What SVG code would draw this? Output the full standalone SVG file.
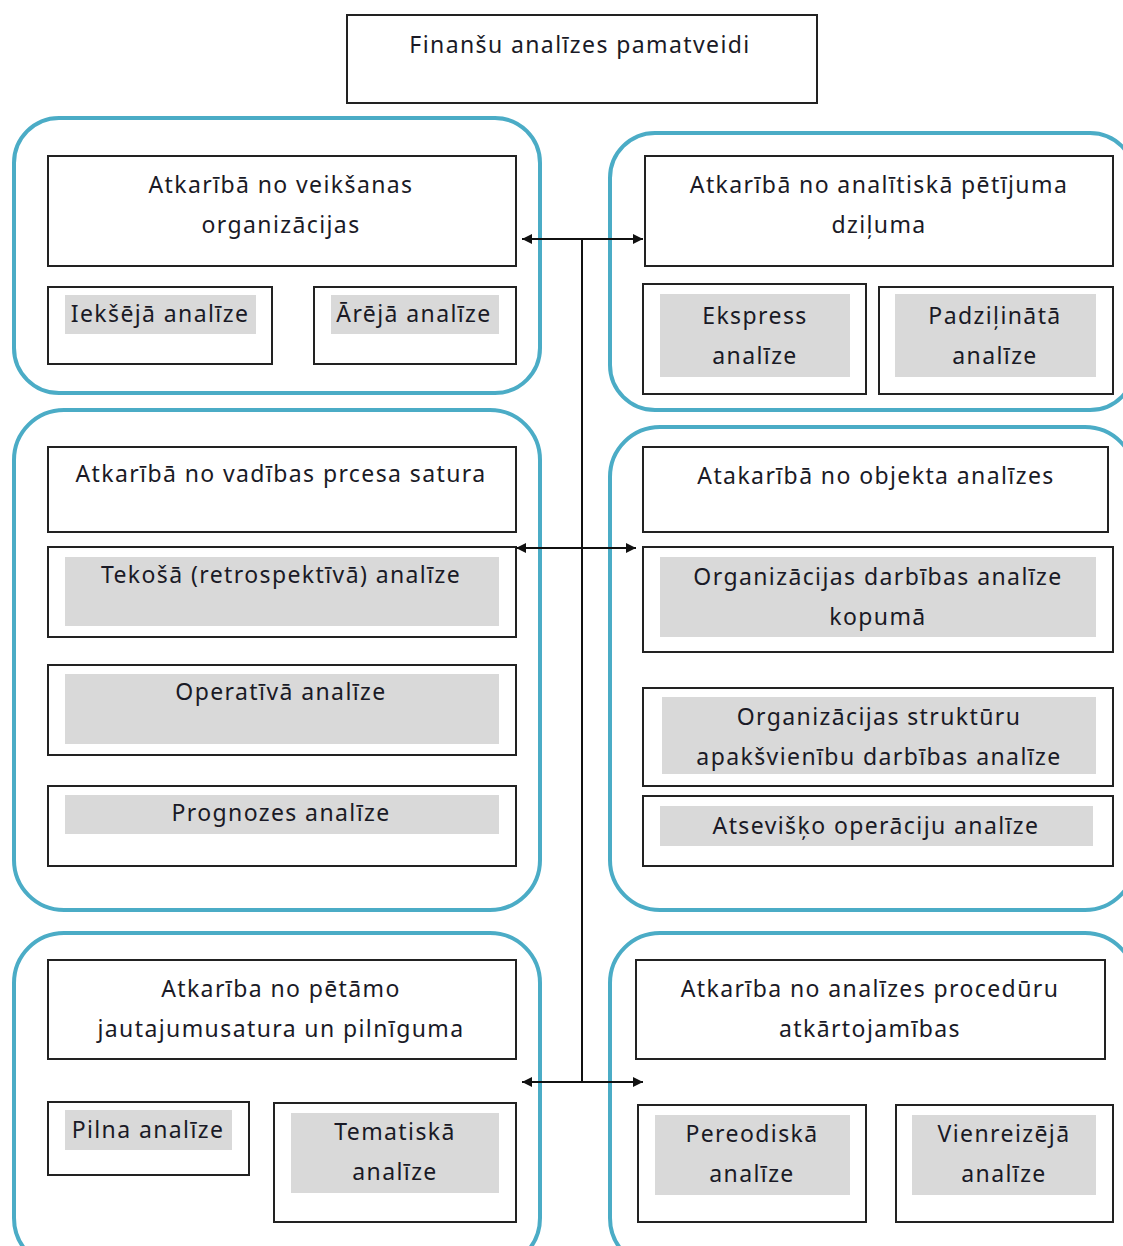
<svg xmlns="http://www.w3.org/2000/svg" width="1123" height="1246" viewBox="0 0 1123 1246">
<style>
.grp{fill:none;stroke:#4BACC6;stroke-width:4}
.box{fill:#fff;stroke:#222;stroke-width:2}
.hl{fill:#d9d9d9}
text{font-family:"Noto Sans","DejaVu Sans",sans-serif;font-size:23px;fill:#1a1a26;text-anchor:middle;letter-spacing:1.4px}
.con{stroke:#111;stroke-width:2;fill:none}
</style>
<defs>
<marker id="ah" markerWidth="12" markerHeight="12" refX="10" refY="6" orient="auto-start-reverse" markerUnits="userSpaceOnUse">
<path d="M0,1 L10,6 L0,11 Z" fill="#111"/>
</marker>
</defs>
<rect width="1123" height="1246" fill="#fff"/>

<g id="title">
<rect class="box" x="347" y="15" width="470" height="88"/>
<text x="580" y="53">Finanšu analīzes pamatveidi</text>
</g>

<g id="group1">
<rect class="grp" x="14" y="118" width="526" height="275" rx="45"/>
<g id="g1-head"><rect class="box" x="48" y="156" width="468" height="110"/>
<text x="281" y="193">Atkarībā no veikšanas</text><text x="281" y="233">organizācijas</text></g>
<g id="g1-a"><rect class="box" x="48" y="287" width="224" height="77"/><rect class="hl" x="65" y="295" width="191" height="39"/>
<text x="160" y="322">Iekšējā analīze</text></g>
<g id="g1-b"><rect class="box" x="314" y="287" width="202" height="77"/><rect class="hl" x="331" y="295" width="168" height="39"/>
<text x="414" y="322">Ārējā analīze</text></g>
</g>

<g id="group2">
<rect class="grp" x="610" y="133" width="525" height="277" rx="45"/>
<g id="g2-head"><rect class="box" x="645" y="156" width="468" height="110"/>
<text x="879" y="193">Atkarībā no analītiskā pētījuma</text><text x="879" y="233">dziļuma</text></g>
<g id="g2-a"><rect class="box" x="643" y="284" width="223" height="110"/><rect class="hl" x="660" y="294" width="190" height="83"/>
<text x="755" y="324">Ekspress</text><text x="755" y="364">analīze</text></g>
<g id="g2-b"><rect class="box" x="879" y="287" width="234" height="107"/><rect class="hl" x="895" y="294" width="201" height="83"/>
<text x="995" y="324">Padziļinātā</text><text x="995" y="364">analīze</text></g>
</g>

<g id="group3">
<rect class="grp" x="14" y="410" width="526" height="500" rx="50"/>
<g id="g3-head"><rect class="box" x="48" y="447" width="468" height="85"/>
<text x="281" y="482">Atkarībā no vadības prcesa satura</text></g>
<g id="g3-a"><rect class="box" x="48" y="547" width="468" height="90"/><rect class="hl" x="65" y="557" width="434" height="69"/>
<text x="281" y="583">Tekošā (retrospektīvā) analīze</text></g>
<g id="g3-b"><rect class="box" x="48" y="665" width="468" height="90"/><rect class="hl" x="65" y="674" width="434" height="70"/>
<text x="281" y="700">Operatīvā analīze</text></g>
<g id="g3-c"><rect class="box" x="48" y="786" width="468" height="80"/><rect class="hl" x="65" y="795" width="434" height="39"/>
<text x="281" y="821">Prognozes analīze</text></g>
</g>

<g id="group4">
<rect class="grp" x="610" y="427" width="525" height="483" rx="50"/>
<g id="g4-head"><rect class="box" x="643" y="447" width="465" height="85"/>
<text x="876" y="484">Atakarībā no objekta analīzes</text></g>
<g id="g4-a"><rect class="box" x="643" y="547" width="470" height="105"/><rect class="hl" x="660" y="557" width="436" height="80"/>
<text x="878" y="585">Organizācijas darbības analīze</text><text x="878" y="625">kopumā</text></g>
<g id="g4-b"><rect class="box" x="643" y="688" width="470" height="98"/><rect class="hl" x="662" y="697" width="434" height="77"/>
<text x="879" y="725">Organizācijas struktūru</text><text x="879" y="765">apakšvienību darbības analīze</text></g>
<g id="g4-c"><rect class="box" x="643" y="796" width="470" height="70"/><rect class="hl" x="660" y="806" width="433" height="40"/>
<text x="876" y="834">Atsevišķo operāciju analīze</text></g>
</g>

<g id="group5">
<rect class="grp" x="14" y="933" width="526" height="335" rx="50"/>
<g id="g5-head"><rect class="box" x="48" y="960" width="468" height="99"/>
<text x="281" y="997">Atkarība no pētāmo</text><text x="281" y="1037">jautajumusatura un pilnīguma</text></g>
<g id="g5-a"><rect class="box" x="48" y="1102" width="201" height="73"/><rect class="hl" x="65" y="1110" width="167" height="40"/>
<text x="148" y="1138">Pilna analīze</text></g>
<g id="g5-b"><rect class="box" x="274" y="1103" width="242" height="119"/><rect class="hl" x="291" y="1113" width="208" height="80"/>
<text x="395" y="1140">Tematiskā</text><text x="395" y="1180">analīze</text></g>
</g>

<g id="group6">
<rect class="grp" x="610" y="933" width="525" height="335" rx="50"/>
<g id="g6-head"><rect class="box" x="636" y="960" width="469" height="99"/>
<text x="870" y="997">Atkarība no analīzes procedūru</text><text x="870" y="1037">atkārtojamības</text></g>
<g id="g6-a"><rect class="box" x="638" y="1105" width="228" height="117"/><rect class="hl" x="655" y="1115" width="195" height="80"/>
<text x="752" y="1142">Pereodiskā</text><text x="752" y="1182">analīze</text></g>
<g id="g6-b"><rect class="box" x="896" y="1105" width="217" height="117"/><rect class="hl" x="912" y="1115" width="184" height="80"/>
<text x="1004" y="1142">Vienreizējā</text><text x="1004" y="1182">analīze</text></g>
</g>

<g id="connectors">
<line class="con" x1="582" y1="239" x2="582" y2="1082"/>
<line class="con" x1="522" y1="239" x2="643" y2="239" marker-start="url(#ah)" marker-end="url(#ah)"/>
<line class="con" x1="516" y1="548" x2="636" y2="548" marker-start="url(#ah)" marker-end="url(#ah)"/>
<line class="con" x1="522" y1="1082" x2="643" y2="1082" marker-start="url(#ah)" marker-end="url(#ah)"/>
</g>
</svg>
